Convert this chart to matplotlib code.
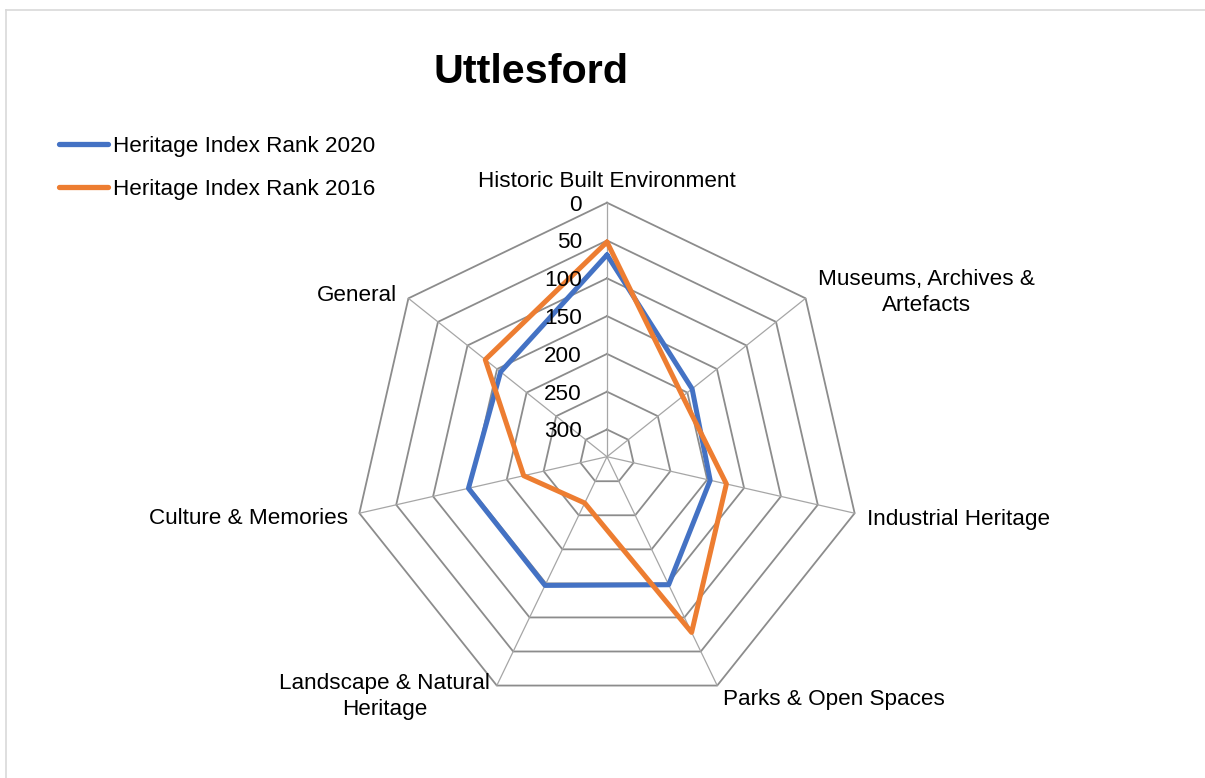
import numpy as np
import matplotlib
matplotlib.use('Agg')
import matplotlib.pyplot as plt
from matplotlib.lines import Line2D

categories = ["Historic Built Environment", "Museums, Archives &\nArtefacts",
              "Industrial Heritage", "Parks & Open Spaces",
              "Landscape & Natural\nHeritage", "Culture & Memories", "General"]
rank_2020 = [69, 192, 196, 148, 147, 148, 156]
rank_2016 = [52, 208, 174, 78, 268, 223, 130]
series_names = ["Heritage Index Rank 2020", "Heritage Index Rank 2016"]
tick_values = [0, 50, 100, 150, 200, 250, 300]
r_center = 336
title = "Uttlesford"

plt.rcParams['font.family'] = ['Liberation Sans', 'DejaVu Sans']

W, H = 1205, 778
fig = plt.figure(figsize=(W / 100, H / 100), dpi=100)
cx, cy, R = 607, 456.7, 254
ax = fig.add_axes([(cx - R) / W, (H - cy - R) / H, 2 * R / W, 2 * R / H], projection='polar')
ax.set_theta_zero_location('N')
ax.set_theta_direction(-1)
ax.set_ylim(r_center, 0)
ax.grid(False)
ax.spines['polar'].set_visible(False)
ax.set_xticks([])
ax.set_yticks([])
ax.patch.set_visible(False)

n = len(categories)
theta = np.arange(n) * 2 * np.pi / n
closed = np.append(theta, theta[0])

for v in tick_values:
    ax.plot(closed, [v] * (n + 1), color='#8c8c8c', lw=1.3, zorder=1, clip_on=False)
for t in theta:
    ax.plot([t, t], [r_center, 0], color='#a6a6a6', lw=0.9, zorder=1, clip_on=False)

colors = ['#4472C4', '#ED7D31']
handles = []
for vals, col, name in zip([rank_2020, rank_2016], colors, series_names):
    h, = ax.plot(closed, list(vals) + [vals[0]], color=col, lw=3.6, zorder=3,
                 solid_joinstyle='round', solid_capstyle='round', label=name, clip_on=False)
    handles.append(h)

fs = 16.2
for v in tick_values:
    ax.annotate(str(v), xy=(0, v), xytext=(-25, -8), textcoords='offset pixels',
                ha='right', va='baseline', fontsize=fs, color='#000000')

label_offsets = [(0, 15.7, 'center', 'baseline'),
                 (121, 5.8, 'center', 'center'),
                 (12, -11.5, 'left', 'baseline'),
                 (5.5, -19, 'left', 'baseline'),
                 (-112, -11.1, 'center', 'center'),
                 (-11, -11, 'right', 'baseline'),
                 (-11, -2.7, 'right', 'baseline')]
for t, lab, (dx, dy, ha, va) in zip(theta, categories, label_offsets):
    ax.annotate(lab, xy=(t, 0), xytext=(dx, dy), textcoords='offset pixels',
                ha=ha, va=va, fontsize=fs, linespacing=1.32, multialignment='center')

leg = fig.legend(handles=handles, labels=series_names, loc='upper left',
                 bbox_to_anchor=(59.3 / W, 1 - 136 / H), frameon=False, fontsize=fs,
                 handlelength=2.18, handletextpad=0.2, labelspacing=0.99,
                 borderpad=0, borderaxespad=0)
for lh in leg.get_lines():
    lh.set_linewidth(3.8)

fig.text(530.7 / W, 1 - 82.7 / H, title, ha='center', va='baseline',
         fontsize=29.7, fontweight='bold')

fig.add_artist(Line2D([6 / W, 1], [1 - 10 / H, 1 - 10 / H], color='#d9d9d9', lw=1.2))
fig.add_artist(Line2D([6 / W, 6 / W], [0, 1 - 10 / H], color='#d9d9d9', lw=1.2))

fig.savefig('out.png', dpi=100)
